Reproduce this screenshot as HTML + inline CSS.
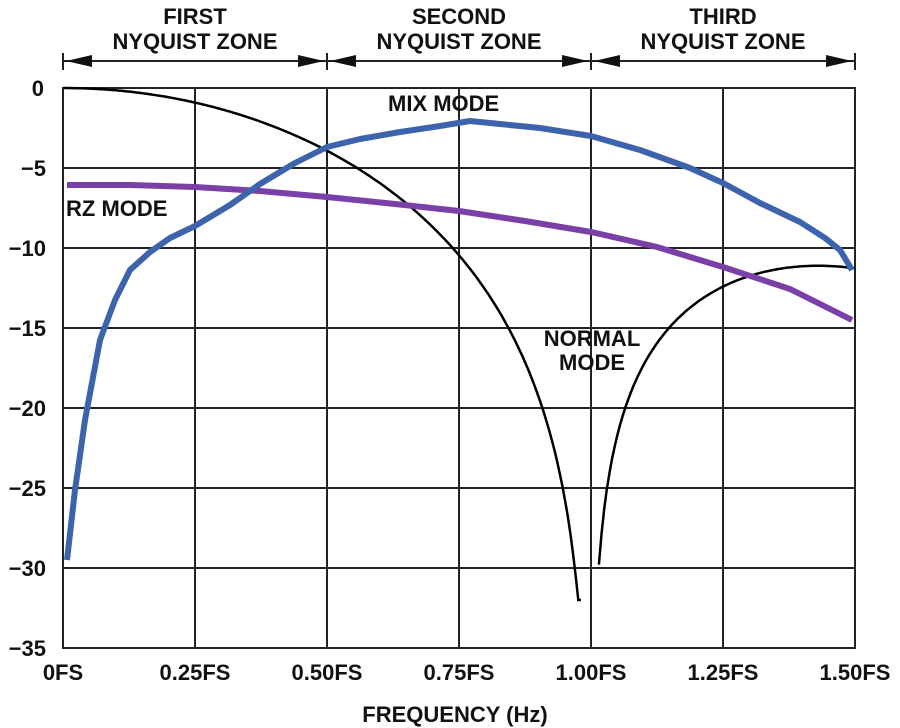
<!DOCTYPE html>
<html><head><style>
body{margin:0;background:#fff}
svg{display:block}
text{font-family:"Liberation Sans",Arial,sans-serif;font-weight:bold;fill:#111}
</style></head><body>
<svg id="s" width="900" height="728" xmlns="http://www.w3.org/2000/svg">
<g stroke="#222" stroke-width="2" fill="none">
<rect x="63" y="88" width="792" height="560"/>
<line x1="195" y1="88" x2="195" y2="648"/><line x1="327" y1="88" x2="327" y2="648"/>
<line x1="459" y1="88" x2="459" y2="648"/><line x1="591" y1="88" x2="591" y2="648"/>
<line x1="723" y1="88" x2="723" y2="648"/>
<line x1="63" y1="168" x2="855" y2="168"/><line x1="63" y1="248" x2="855" y2="248"/>
<line x1="63" y1="328" x2="855" y2="328"/><line x1="63" y1="408" x2="855" y2="408"/>
<line x1="63" y1="488" x2="855" y2="488"/><line x1="63" y1="568" x2="855" y2="568"/>
<line x1="63" y1="61" x2="855" y2="61"/>
<line x1="63" y1="53" x2="63" y2="70"/><line x1="327" y1="53" x2="327" y2="70"/>
<line x1="591" y1="53" x2="591" y2="70"/><line x1="855" y1="53" x2="855" y2="70"/>
</g>
<g fill="#111">
<polygon points="66,61 92,55 92,67"/><polygon points="324,61 298,55 298,67"/>
<polygon points="330,61 356,55 356,67"/><polygon points="588,61 562,55 562,67"/>
<polygon points="594,61 620,55 620,67"/><polygon points="852,61 826,55 826,67"/>
</g>
<g font-size="22" text-anchor="middle">
<text x="195" y="24">FIRST</text><text x="195" y="49">NYQUIST ZONE</text>
<text x="459" y="24">SECOND</text><text x="459" y="49">NYQUIST ZONE</text>
<text x="723" y="24">THIRD</text><text x="723" y="49">NYQUIST ZONE</text>
</g>
<g font-size="22" text-anchor="end">
<text x="44" y="96">0</text><text x="46" y="176">−5</text><text x="46" y="256">−10</text>
<text x="46" y="336">−15</text><text x="46" y="416">−20</text><text x="46" y="496">−25</text>
<text x="46" y="576">−30</text><text x="46" y="656">−35</text>
</g>
<g font-size="22" text-anchor="middle">
<text x="63" y="680">0FS</text><text x="195" y="680">0.25FS</text><text x="327" y="680">0.50FS</text>
<text x="459" y="680">0.75FS</text><text x="591" y="680">1.00FS</text><text x="723" y="680">1.25FS</text>
<text x="855" y="680">1.50FS</text>
<text x="455" y="722">FREQUENCY (Hz)</text>
</g>
<g font-size="22">
<text x="388" y="111">MIX MODE</text>
<text x="66" y="216">RZ MODE</text>
<text x="592" y="346" text-anchor="middle">NORMAL</text>
<text x="592" y="370" text-anchor="middle">MODE</text>
</g>
<path id="n1" fill="none" stroke="#000" stroke-width="2.5"/>
<path id="n2" fill="none" stroke="#000" stroke-width="2.5"/>
<polyline fill="none" stroke="#7b3fa8" stroke-width="6" points="67,185 130,185 195,187 260,191 327,197 395,204 459,211 525,221 591,232 657,247 723,267 790,289 852,320"/>
<polyline fill="none" stroke="#3d63ad" stroke-width="6" stroke-linejoin="round" points="67,560 75,490 85,420 100,340 115,300 130,270 150,252 170,238 195,226 230,205 260,184 295,163 327,147 360,139 400,132 440,126 470,121 500,124 540,128 591,136 640,150 690,168 723,183 760,203 800,222 825,238 840,250 852,270"/>
</svg>
<script>
function y(d){return 88-d*16}
function sinc(f){var a=Math.PI*f;return Math.abs(Math.sin(a)/a)}
var p1="",p2="";
for(var f=0.001;f<=0.985;f+=0.005){var d=20*Math.log10(sinc(f));if(d<-32)d=-32;p1+=(p1?"L":"M")+(63+f*528).toFixed(1)+","+y(d).toFixed(1);}
for(var f=1.015;f<=1.5;f+=0.005){var d=20*Math.log10(sinc(f))*0.8-0.5;if(f>1.35)d=Math.max(d,-11.3-(1.5-f)*6);if(d<-32)d=-32;p2+=(p2?"L":"M")+(63+f*528).toFixed(1)+","+y(d).toFixed(1);}
document.getElementById("n1").setAttribute("d",p1);
document.getElementById("n2").setAttribute("d",p2);
</script>
</body></html>
